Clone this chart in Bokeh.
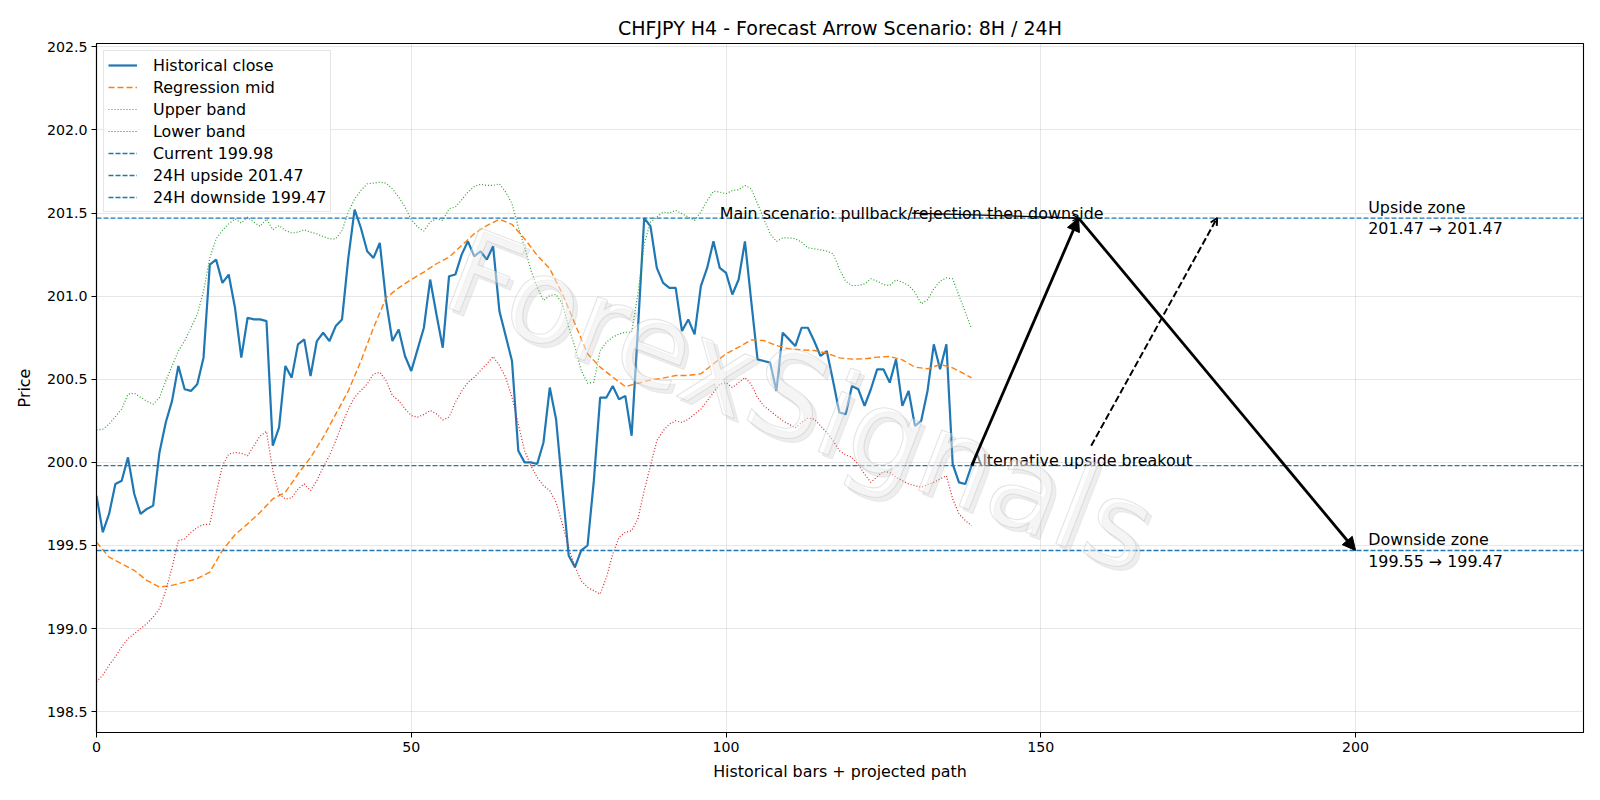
from bokeh.plotting import figure
from bokeh.models import (Range1d, FixedTicker, PrintfTickFormatter, Arrow, NormalHead,
                          OpenHead, Label, Legend, LegendItem)
from bokeh.core.properties import value
from bokeh.embed import file_html
from bokeh.resources import INLINE

# ---------------- data ----------------
close = [199.80, 199.58, 199.69, 199.87, 199.89, 200.03, 199.81, 199.69, 199.72, 199.74,
         200.06, 200.24, 200.37, 200.58, 200.44, 200.43, 200.47, 200.63, 201.19, 201.22,
         201.08, 201.13, 200.93, 200.63, 200.87, 200.86, 200.86, 200.85, 200.10, 200.21,
         200.58, 200.51, 200.71, 200.74, 200.52, 200.73, 200.78, 200.73, 200.82, 200.86,
         201.23, 201.52, 201.41, 201.27, 201.23, 201.32, 200.97, 200.73, 200.80, 200.64,
         200.55, 200.68, 200.81, 201.10, 200.89, 200.69, 201.12, 201.13, 201.25, 201.33,
         201.24, 201.27, 201.22, 201.30, 200.91, 200.76, 200.61, 200.07, 200.00, 200.00,
         199.99, 200.12, 200.45, 200.26, 199.85, 199.44, 199.37, 199.47, 199.50, 199.89,
         200.39, 200.39, 200.46, 200.38, 200.40, 200.16, 200.80, 201.47, 201.42, 201.17,
         201.08, 201.05, 201.05, 200.79, 200.86, 200.77, 201.06, 201.17, 201.33, 201.17,
         201.14, 201.01, 201.10, 201.33, 200.97, 200.62, 200.61, 200.60, 200.43, 200.78,
         200.74, 200.70, 200.81, 200.81, 200.73, 200.64, 200.67, 200.49, 200.30, 200.29,
         200.46, 200.44, 200.34, 200.44, 200.56, 200.56, 200.48, 200.62, 200.34, 200.43,
         200.22, 200.25, 200.43, 200.71, 200.56, 200.71, 199.99, 199.88, 199.87, 199.98]
bars = list(range(len(close)))

mid_x = list(range(0, 139, 2)) + [139]
mid = [199.52, 199.43, 199.39, 199.35, 199.29, 199.25, 199.26, 199.28, 199.30, 199.34,
       199.47, 199.565, 199.63, 199.70, 199.78, 199.82, 199.93, 200.03, 200.15, 200.29,
       200.43, 200.61, 200.81, 200.99, 201.05, 201.10, 201.145, 201.195, 201.235, 201.305,
       201.375, 201.425, 201.462, 201.432, 201.345, 201.245, 201.165, 201.014, 200.834, 200.653,
       200.573, 200.513, 200.456, 200.476, 200.496, 200.507, 200.523, 200.523, 200.533, 200.593,
       200.653, 200.693, 200.737, 200.733, 200.703, 200.683, 200.677, 200.673, 200.657, 200.629,
       200.621, 200.623, 200.633, 200.637, 200.617, 200.573, 200.563, 200.589, 200.569, 200.529,
       200.508]

upper = [200.195, 200.20, 200.23, 200.275, 200.32, 200.41, 200.416, 200.392, 200.368, 200.35,
         200.39, 200.49, 200.58, 200.67, 200.73, 200.81, 200.89, 201.03, 201.23, 201.345,
         201.395, 201.435, 201.465, 201.44, 201.475, 201.445, 201.42, 201.465, 201.40, 201.425,
         201.395, 201.38, 201.385, 201.40, 201.385, 201.375, 201.359, 201.345, 201.345, 201.395,
         201.505, 201.585, 201.636, 201.676, 201.68, 201.686, 201.68, 201.646, 201.596, 201.536,
         201.46, 201.416, 201.392, 201.446, 201.466, 201.456, 201.526, 201.536, 201.58, 201.626,
         201.66, 201.673, 201.666, 201.666, 201.676, 201.626, 201.556, 201.416, 201.295, 201.155,
         201.054, 200.974, 201.004, 201.01, 200.954, 200.814, 200.693, 200.553, 200.476, 200.482,
         200.673, 200.723, 200.753, 200.773, 200.783, 200.783, 201.014, 201.315, 201.446, 201.476,
         201.506, 201.50, 201.516, 201.496, 201.476, 201.456, 201.506, 201.576, 201.632, 201.626,
         201.616, 201.636, 201.64, 201.666, 201.646, 201.556, 201.466, 201.375, 201.329, 201.351,
         201.351, 201.345, 201.325, 201.291, 201.285, 201.279, 201.271, 201.255, 201.165, 201.09,
         201.064, 201.064, 201.074, 201.105, 201.09, 201.07, 201.064, 201.098, 201.084, 201.064,
         201.024, 200.954, 200.978, 201.044, 201.09, 201.11, 201.104, 201.004, 200.904, 200.804]

lower = [198.68, 198.72, 198.78, 198.83, 198.89, 198.94, 198.97, 199.00, 199.03, 199.07,
         199.12, 199.228, 199.368, 199.529, 199.539, 199.579, 199.609, 199.625, 199.629, 199.81,
         199.98, 200.05, 200.06, 200.055, 200.04, 200.10, 200.16, 200.187, 199.95, 199.81,
         199.78, 199.786, 199.84, 199.87, 199.83, 199.89, 199.97, 200.04, 200.13, 200.23,
         200.32, 200.392, 200.432, 200.472, 200.532, 200.542, 200.492, 200.402, 200.372, 200.322,
         200.282, 200.272, 200.288, 200.312, 200.292, 200.256, 200.272, 200.362, 200.428, 200.482,
         200.512, 200.553, 200.593, 200.637, 200.583, 200.512, 200.392, 200.23, 200.07, 199.98,
         199.91, 199.86, 199.83, 199.76, 199.63, 199.489, 199.37, 199.288, 199.248, 199.228,
         199.208, 199.308, 199.448, 199.549, 199.579, 199.589, 199.66, 199.83, 199.98, 200.13,
         200.19, 200.231, 200.25, 200.24, 200.26, 200.29, 200.32, 200.37, 200.42, 200.47,
         200.48, 200.45, 200.48, 200.51, 200.47, 200.39, 200.34, 200.31, 200.28, 200.25,
         200.23, 200.207, 200.24, 200.267, 200.26, 200.22, 200.18, 200.13, 200.07, 200.045,
         200.03, 199.986, 199.93, 199.88, 199.914, 199.946, 199.94, 199.91, 199.89, 199.87,
         199.86, 199.85, 199.866, 199.88, 199.90, 199.92, 199.78, 199.69, 199.65, 199.62]

current = 199.98
upside = 201.47
downside = 199.47
up_zone = [201.47, 201.47]
down_zone = [199.55, 199.47]

# scenario path (bar index, price)
main_path_x = [139, 156, 200]
main_path_y = [current, upside, downside]
alt_path_x = [158, 178]
alt_path_y = [200.10, upside]
main_label_pos = [99, upside]
main_label_arrow_x = [129.5, 156]
main_label_arrow_y = [201.50, upside]
alt_label_pos = [139, current]
zone_label_x = 202

x_lim = [0, 236.2]
y_lim = [198.375, 202.52]
x_ticks = [0, 50, 100, 150, 200]
y_ticks = [198.5, 199.0, 199.5, 200.0, 200.5, 201.0, 201.5, 202.0, 202.5]

BLUE, ORANGE, GREEN, RED = "#1f77b4", "#ff7f0e", "#2ca02c", "#d62728"
FONT = "DejaVu Sans"
FS = "15.9px"
TICK_FS = "14.2px"

p = figure(width=1600, height=800, output_backend="svg", toolbar_location=None,
           x_range=Range1d(*x_lim), y_range=Range1d(*y_lim),
           min_border_left=96, min_border_right=17, min_border_top=43, min_border_bottom=68,
           title="CHFJPY H4 - Forecast Arrow Scenario: 8H / 24H")
p.background_fill_color = "white"
p.border_fill_color = "white"
p.outline_line_color = "black"
p.outline_line_width = 1.1

p.title.align = "center"
p.title.text_font = FONT
p.title.text_font_size = "19px"
p.title.text_font_style = "normal"
p.title.text_color = "black"
p.title.standoff = 10

for ax in (p.xaxis[0], p.yaxis[0]):
    ax.major_label_text_font = FONT
    ax.major_label_text_font_size = TICK_FS
    ax.major_label_text_color = "black"
    ax.axis_label_text_font = FONT
    ax.axis_label_text_font_size = FS
    ax.axis_label_text_font_style = "normal"
    ax.axis_label_text_color = "black"
    ax.major_tick_out = 5
    ax.major_tick_in = 0
    ax.minor_tick_out = 0
    ax.minor_tick_in = 0
    ax.major_tick_line_color = "black"
    ax.axis_line_color = "black"
    ax.axis_line_width = 1.1
    ax.major_label_standoff = 4

p.xaxis.ticker = FixedTicker(ticks=x_ticks)
p.yaxis.ticker = FixedTicker(ticks=y_ticks)
p.yaxis.formatter = PrintfTickFormatter(format="%.1f")
p.xaxis.axis_label = "Historical bars + projected path"
p.yaxis.axis_label = "Price"
p.xaxis.axis_label_standoff = 7
p.yaxis.axis_label_standoff = 10

p.xgrid.ticker = FixedTicker(ticks=x_ticks)
p.ygrid.ticker = FixedTicker(ticks=y_ticks)
p.grid.grid_line_color = "#b0b0b0"
p.grid.grid_line_alpha = 0.3
p.grid.grid_line_width = 1

r_close = p.line(bars, close, line_color=BLUE, line_width=2.2)
r_mid = p.line(mid_x, mid, line_color=ORANGE, line_width=1.4, line_dash="6 3")
r_up = p.line(bars, upper, line_color=GREEN, line_width=1.2, line_dash="1 2")
r_lo = p.line(bars, lower, line_color=RED, line_width=1.2, line_dash="1 2")
r_cur = p.line(x_lim, [current, current], line_color=BLUE, line_width=1.3, line_dash="5 2")
r_ups = p.line(x_lim, [upside, upside], line_color=BLUE, line_width=1.3, line_dash="5 2")
r_dns = p.line(x_lim, [downside, downside], line_color=BLUE, line_width=1.3, line_dash="5 2")

# watermark at figure centre
wm_x = x_lim[0] + (800 - 96) / (1583 - 96) * (x_lim[1] - x_lim[0])
wm_y = y_lim[1] - (400 - 43) / (732 - 43) * (y_lim[1] - y_lim[0])
shadow_dx = 4 / (1583 - 96) * (x_lim[1] - x_lim[0])
shadow_dy = 4 / (732 - 43) * (y_lim[1] - y_lim[0])
def wm_label(x, y, color, alpha, outline):
    kw = dict(x=x, y=y, text="ForexSignals", angle=-0.37, text_align="center", text_baseline="middle",
              text_font=FONT, text_font_size="118px", text_color=color, text_alpha=alpha)
    try:
        return Label(**kw, text_outline_color=outline)
    except Exception:
        return Label(**kw)
p.add_layout(wm_label(wm_x + shadow_dx, wm_y - shadow_dy, "#b0b0b0", 0.22, "#c0c0c0"))
p.add_layout(wm_label(wm_x, wm_y, "white", 0.4, "#bdbdbd"))

# arrows
p.add_layout(Arrow(x_start=main_path_x[0], y_start=main_path_y[0], x_end=main_path_x[1], y_end=main_path_y[1],
                   line_color="black", line_width=2.8,
                   end=NormalHead(size=13, fill_color="black", line_color="black", line_width=1)))
p.add_layout(Arrow(x_start=main_path_x[1], y_start=main_path_y[1], x_end=main_path_x[2], y_end=main_path_y[2],
                   line_color="black", line_width=2.8,
                   end=NormalHead(size=13, fill_color="black", line_color="black", line_width=1)))
p.add_layout(Arrow(x_start=alt_path_x[0], y_start=alt_path_y[0], x_end=alt_path_x[1], y_end=alt_path_y[1],
                   line_color="black", line_width=2.0, line_dash="7 3",
                   end=OpenHead(size=7, line_color="black", line_width=2.0)))
p.add_layout(Arrow(x_start=main_label_arrow_x[0], y_start=main_label_arrow_y[0],
                   x_end=main_label_arrow_x[1], y_end=main_label_arrow_y[1],
                   line_color="black", line_width=1.3,
                   end=OpenHead(size=6, line_color="black", line_width=1.3)))

# texts
p.text(x=[main_label_pos[0]], y=[main_label_pos[1]], text=["Main scenario: pullback/rejection then downside"],
       text_font=value(FONT), text_font_size=value(FS), text_color="black",
       text_align="left", text_baseline="alphabetic", y_offset=-5)
p.text(x=[alt_label_pos[0]], y=[alt_label_pos[1]], text=["Alternative upside breakout"],
       text_font=value(FONT), text_font_size=value(FS), text_color="black",
       text_align="left", text_baseline="alphabetic", y_offset=-5)
p.text(x=[zone_label_x, zone_label_x], y=[upside, downside],
       text=[f"Upside zone\n{up_zone[0]:.2f} \u2192 {up_zone[1]:.2f}",
             f"Downside zone\n{down_zone[0]:.2f} \u2192 {down_zone[1]:.2f}"],
       text_font=value(FONT), text_font_size=value(FS), text_color="black",
       text_align="left", text_baseline="middle", text_line_height=1.15)

legend = Legend(items=[
    LegendItem(label="Historical close", renderers=[r_close]),
    LegendItem(label="Regression mid", renderers=[r_mid]),
    LegendItem(label="Upper band", renderers=[r_up]),
    LegendItem(label="Lower band", renderers=[r_lo]),
    LegendItem(label=f"Current {current:.2f}", renderers=[r_cur]),
    LegendItem(label=f"24H upside {upside:.2f}", renderers=[r_ups]),
    LegendItem(label=f"24H downside {downside:.2f}", renderers=[r_dns]),
], location="top_left")
legend.label_text_font = FONT
legend.label_text_font_size = FS
legend.label_text_color = "black"
legend.glyph_width = 29
legend.glyph_height = 20
legend.label_height = 20
legend.spacing = 2
legend.padding = 4
legend.margin = 7
legend.label_standoff = 16
legend.border_line_color = "#cccccc"
legend.border_line_width = 1
legend.background_fill_color = "white"
legend.background_fill_alpha = 0.8
p.add_layout(legend)

open("out.html", "w").write(file_html(p, INLINE))
